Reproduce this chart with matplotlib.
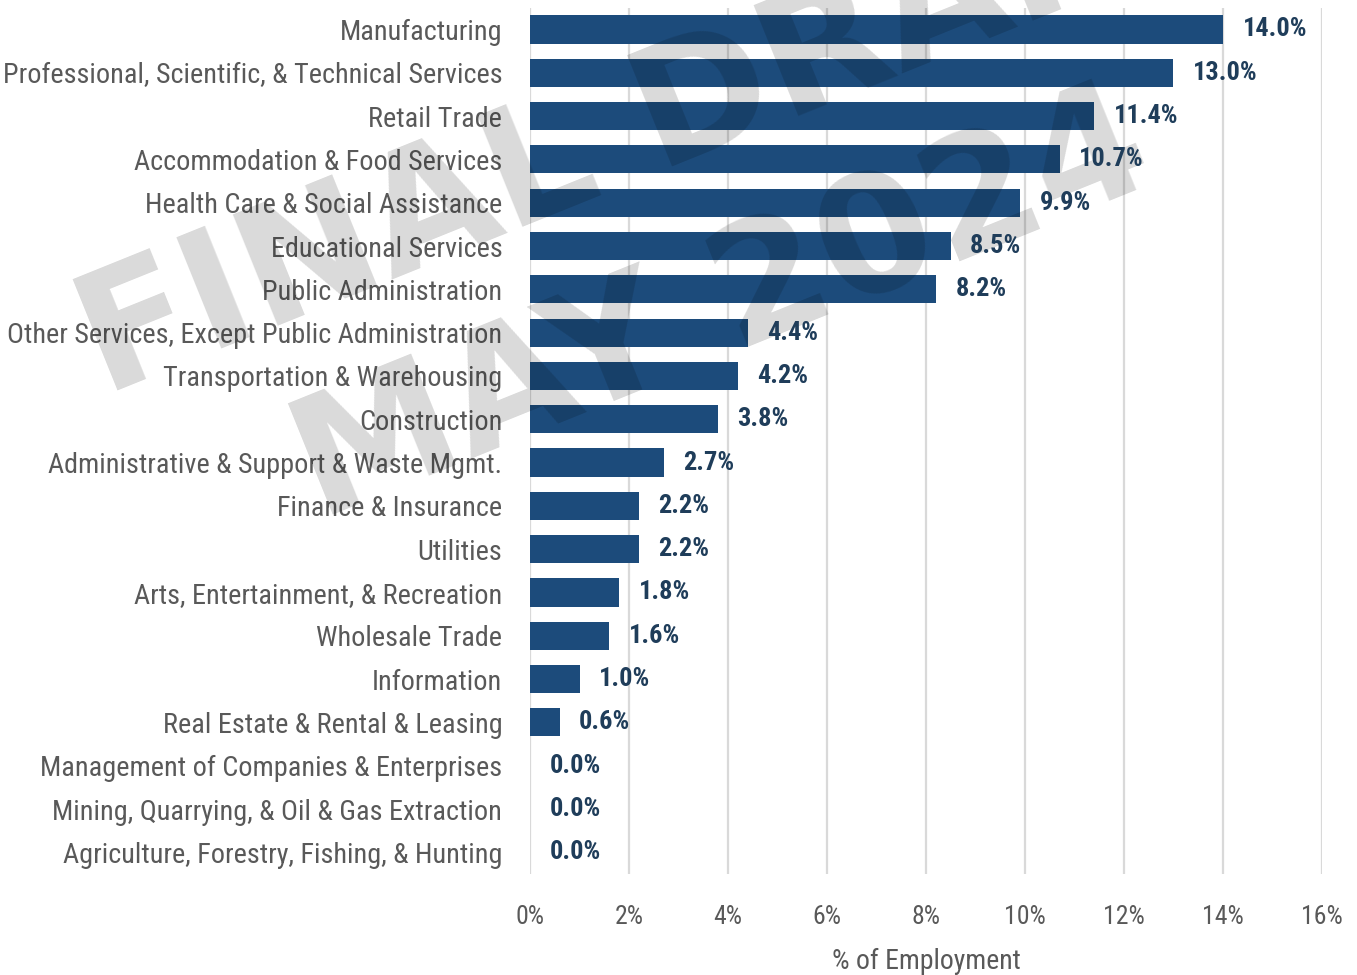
import numpy as np
import matplotlib
matplotlib.use('Agg')
from matplotlib import pyplot as plt
from matplotlib import font_manager

# industry shares of employment (%)
industries = ['Manufacturing',
              'Professional, Scientific, & Technical Services',
              'Retail Trade',
              'Accommodation & Food Services',
              'Health Care & Social Assistance',
              'Educational Services',
              'Public Administration',
              'Other Services, Except Public Administration',
              'Transportation & Warehousing',
              'Construction',
              'Administrative & Support & Waste Mgmt.',
              'Finance & Insurance',
              'Utilities',
              'Arts, Entertainment, & Recreation',
              'Wholesale Trade',
              'Information',
              'Real Estate & Rental & Leasing',
              'Management of Companies & Enterprises',
              'Mining, Quarrying, & Oil & Gas Extraction',
              'Agriculture, Forestry, Fishing, & Hunting']
shares = [14.0, 13.0, 11.4, 10.7, 9.9, 8.5, 8.2, 4.4, 4.2, 3.8,
          2.7, 2.2, 2.2, 1.8, 1.6, 1.0, 0.6, 0.0, 0.0, 0.0]
xticks = [0, 2, 4, 6, 8, 10, 12, 14, 16]

# pick a narrow font if there is one
names = set(f.name for f in font_manager.fontManager.ttflist)
narrow = 'DejaVu Sans'
for n in ['Roboto Condensed', 'Liberation Sans Narrow', 'Open Sans Condensed', 'DejaVu Sans Condensed']:
    if n in names:
        narrow = n
        break
plt.rcParams['font.family'] = [narrow, 'DejaVu Sans']

bar_col = '#1c4b7b'
lab_col = '#1f3d5a'
txt_col = '#595959'

fig = plt.figure(figsize=(13.57, 9.75), dpi=100)
ax = fig.add_axes([0.3906, 0.1036, 0.9742 - 0.3906, 0.992 - 0.1036])

y = np.arange(len(industries))
ax.barh(y, shares, height=0.65, color=bar_col, zorder=1)
for yi, v in zip(y, shares):
    ax.annotate('%.1f%%' % v, (v, yi), xytext=(14, 0), textcoords='offset points',
                ha='left', va='center', fontsize=19, fontweight='bold', color=lab_col, zorder=4)

ax.set_xlim(0, 16)
ax.set_ylim(len(industries) - 0.5, -0.5)
ax.set_xticks(xticks)
ax.set_xticklabels(['%d%%' % t for t in xticks])
ax.set_yticks(y)
ax.set_yticklabels(industries)
ax.tick_params(axis='both', length=0, colors=txt_col)
ax.tick_params(axis='y', pad=20, labelsize=20.3)
ax.tick_params(axis='x', pad=22, labelsize=18.5)
ax.set_xlabel('% of Employment', fontsize=20, color=txt_col, labelpad=14)
for s in ax.spines.values():
    s.set_visible(False)
ax.set_axisbelow(True)
ax.grid(axis='x', color='#d9d9d9', linewidth=1.6)
ax.grid(axis='y', visible=False)

# watermark
ax.text(0.505, 0.777, 'FINAL DRAFT\nMAY 2024', transform=fig.transFigure,
        family='DejaVu Sans', fontweight='bold', fontsize=118, color='black', alpha=0.15,
        rotation=22, rotation_mode='anchor', ha='center', va='center',
        multialignment='center', linespacing=1.3, zorder=2, clip_on=False)

fig.savefig('out.png', dpi=100)
